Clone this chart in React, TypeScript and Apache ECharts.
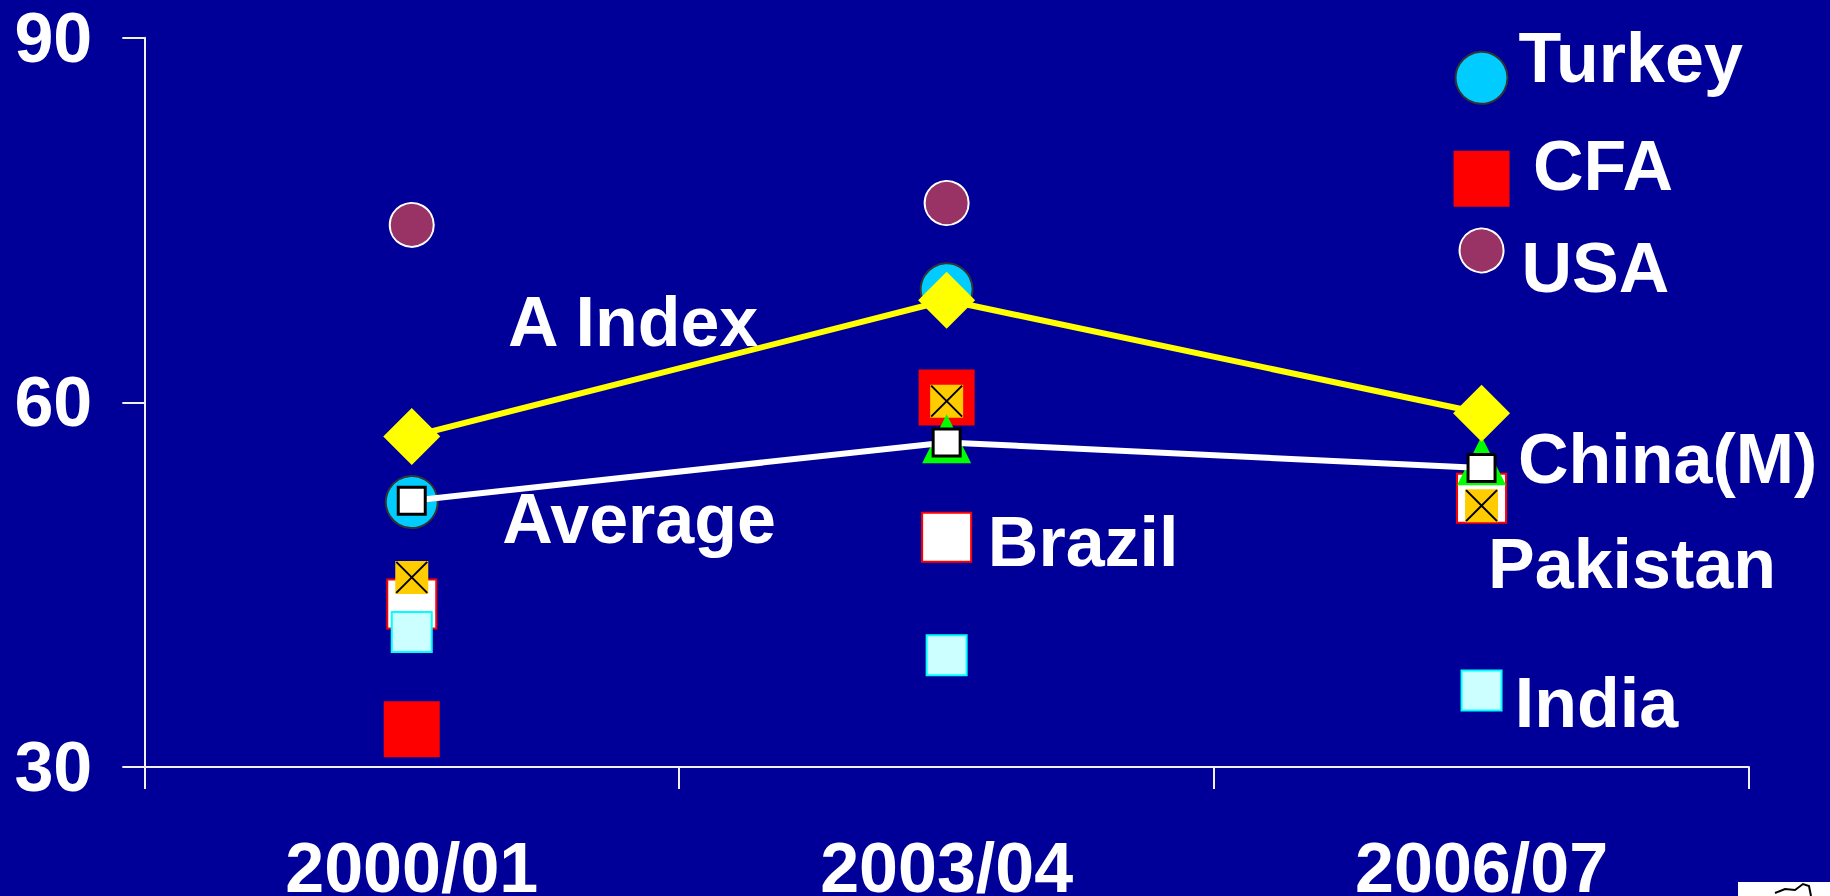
import React, { useEffect, useRef } from "react";
import * as echarts from "echarts";

const categories = ["2000/01", "2003/04", "2006/07"];
const yTicks = [30, 60, 90];

const turkey = [51.8, 69.3, 86.7];
const cfa = [33.1, 60.4, 78.4];
const usa = [74.6, 76.4, 72.5];
const brazil = [43.4, 48.9, 52.1];
const chinaM = [null, 57.0, 55.2];
const pakistan = [45.6, 60.1, 51.5];
const india = [41.1, 39.2, 36.3];
const average = [51.9, 56.7, 54.6];
const aIndex = [57.2, 68.4, 59.1];

const FONT = "'Liberation Sans', Arial, sans-serif";

function withLabel(values: (number | null)[], idx: number, offset: number[]) {
  return values.map((v, i) =>
    i === idx
      ? {
          value: v,
          label: {
            show: true,
            position: "right",
            distance: 0,
            offset,
            formatter: "{a}",
            color: "#ffffff",
            fontSize: 70,
            fontWeight: "bold",
            fontFamily: FONT,
          },
        }
      : v
  );
}

export default function App() {
  const ref = useRef<HTMLDivElement>(null);
  useEffect(() => {
    if (!ref.current) return;
    const chart = echarts.init(ref.current, null, { renderer: "svg" });
    const option: any = {
      animation: false,
      backgroundColor: "#000099",
      grid: {
        left: 144.3,
        right: 81,
        top: 37.7,
        bottom: 129,
        containLabel: false,
        outerBoundsMode: "none",
      },
      xAxis: {
        type: "category",
        data: categories,
        boundaryGap: true,
        axisLine: { show: true, lineStyle: { color: "#f0f0f0", width: 2 } },
        axisTick: { show: true, length: 22, lineStyle: { color: "#f0f0f0", width: 2 } },
        axisLabel: {
          color: "#ffffff",
          fontSize: 70,
          fontWeight: "bold",
          fontFamily: FONT,
          margin: 66,
        },
        splitLine: { show: false },
      },
      yAxis: {
        type: "value",
        min: yTicks[0],
        max: yTicks[yTicks.length - 1],
        interval: 30,
        axisLine: { show: true, lineStyle: { color: "#f0f0f0", width: 2 } },
        axisTick: { show: true, length: 22, lineStyle: { color: "#f0f0f0", width: 2 } },
        axisLabel: {
          color: "#ffffff",
          fontSize: 70,
          fontWeight: "bold",
          fontFamily: FONT,
          margin: 52,
        },
        splitLine: { show: false },
      },
      series: [
        {
          name: "CFA",
          type: "scatter",
          symbol: "rect",
          symbolSize: 56,
          itemStyle: { color: "#ff0000", opacity: 1 },
          data: withLabel(cfa, 2, [23.5, -12.5]),
          z: 2,
        },
        {
          name: "Brazil",
          type: "scatter",
          symbol: "rect",
          symbolSize: 49,
          itemStyle: { color: "#ffffff", borderColor: "#ff0000", borderWidth: 2, opacity: 1 },
          data: withLabel(brazil, 1, [15.7, 4.4]),
          z: 3,
        },
        {
          name: "India",
          type: "scatter",
          symbol: "rect",
          symbolSize: 40,
          itemStyle: { color: "#ccffff", borderColor: "#00ffff", borderWidth: 2, opacity: 1 },
          data: withLabel(india, 2, [12.3, 12.5]),
          z: 4,
        },
        {
          name: "Pakistan",
          type: "scatter",
          symbol: "rect",
          symbolSize: 33,
          itemStyle: { color: "#ffcc00", opacity: 1 },
          data: withLabel(pakistan, 2, [-10, 57.9]),
          z: 5,
        },
        {
          name: "PakistanX",
          type: "scatter",
          symbol: "path://M0,0L10,10M10,0L0,10",
          symbolSize: 31,
          itemStyle: { color: "transparent", borderColor: "#000000", borderWidth: 2, opacity: 1 },
          data: pakistan,
          z: 6,
        },
        {
          name: "China(M)",
          type: "scatter",
          symbol: "triangle",
          symbolSize: 49,
          itemStyle: { color: "#00ff00", opacity: 1 },
          data: withLabel(chinaM, 2, [12, -1.3]),
          z: 7,
        },
        {
          name: "Turkey",
          type: "scatter",
          symbol: "circle",
          symbolSize: 52,
          itemStyle: { color: "#00ccff", borderColor: "#333333", borderWidth: 2, opacity: 1 },
          data: withLabel(turkey, 2, [10, -19.5]),
          z: 8,
        },
        {
          name: "USA",
          type: "scatter",
          symbol: "circle",
          symbolSize: 44,
          itemStyle: { color: "#993366", borderColor: "#ffffff", borderWidth: 2, opacity: 1 },
          data: withLabel(usa, 2, [17, 17.5]),
          z: 9,
        },
        {
          name: "Average",
          type: "line",
          symbol: "rect",
          symbolSize: 27,
          showSymbol: true,
          lineStyle: { color: "#ffffff", width: 6 },
          itemStyle: { color: "#ffffff", borderColor: "#000000", borderWidth: 3 },
          data: withLabel(average, 0, [75.5, 17.8]),
          z: 10,
        },
        {
          name: "A Index",
          type: "line",
          symbol: "diamond",
          symbolSize: 57,
          showSymbol: true,
          lineStyle: { color: "#ffff00", width: 6 },
          itemStyle: { color: "#ffff00" },
          data: withLabel(aIndex, 0, [67.8, -114.8]),
          z: 11,
        },
      ],
      graphic: [
        {
          type: "rect",
          left: 1738,
          top: 882,
          shape: { width: 92, height: 14 },
          style: { fill: "#ffffff" },
        },
        {
          type: "polyline",
          shape: {
            points: [
              [1775, 893],
              [1785, 889],
              [1795, 890],
              [1803, 884],
              [1809, 886],
              [1811, 896],
            ],
          },
          style: { stroke: "#000000", lineWidth: 2, fill: "none" },
        },
      ],
    };
    chart.setOption(option);
    return () => chart.dispose();
  }, []);
  return (
    <div
      ref={ref}
      style={{ position: "fixed", left: 0, top: 0, width: 1830, height: 896 }}
    />
  );
}
